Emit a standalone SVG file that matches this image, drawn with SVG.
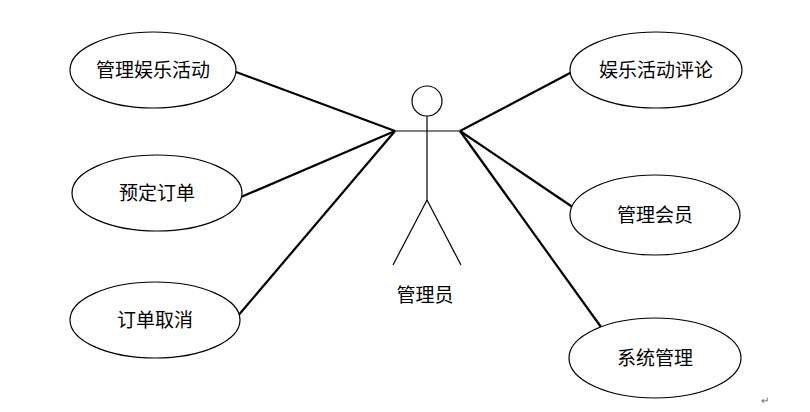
<svg xmlns="http://www.w3.org/2000/svg" width="810" height="412" viewBox="0 0 810 412">
<style>
ellipse{fill:#fff;stroke:#000;stroke-width:1.2}
.c line,.a line{stroke:#000}
.c line{stroke-width:2.2}
.a line,.a circle{stroke-width:1.2;fill:none;stroke:#000}
text{font-family:"Noto Sans CJK SC","Noto Sans CJK JP",sans-serif;font-size:19px;text-anchor:middle;fill:#000}
</style>
<rect width="810" height="412" fill="#fff"/>
<g class="c">
<line x1="395" y1="131" x2="236" y2="72"/>
<line x1="395" y1="131" x2="241" y2="197"/>
<line x1="395" y1="131" x2="237" y2="317"/>
<line x1="460" y1="131" x2="572" y2="72"/>
<line x1="460" y1="131" x2="574" y2="208"/>
<line x1="460" y1="131" x2="601" y2="327"/>
</g>
<g id="actor" class="a">
<circle cx="427" cy="101" r="15"/>
<line x1="427" y1="116" x2="427" y2="200"/>
<line x1="395" y1="131" x2="460" y2="131"/>
<line x1="427" y1="200" x2="393" y2="265"/>
<line x1="427" y1="200" x2="461" y2="265"/>
<text x="425" y="302" stroke="none">管理员</text>
</g>
<g id="uc1"><ellipse cx="153" cy="70" rx="83" ry="38"/><text x="153" y="77">管理娱乐活动</text></g>
<g id="uc2"><ellipse cx="157" cy="193" rx="85" ry="38"/><text x="157" y="200">预定订单</text></g>
<g id="uc3"><ellipse cx="155" cy="320" rx="85" ry="38"/><text x="155" y="327">订单取消</text></g>
<g id="uc4"><ellipse cx="656" cy="70" rx="86" ry="38"/><text x="656" y="77">娱乐活动评论</text></g>
<g id="uc5"><ellipse cx="655" cy="215" rx="85" ry="40"/><text x="655" y="222">管理会员</text></g>
<g id="uc6"><ellipse cx="655" cy="358" rx="86" ry="40"/><text x="655" y="365">系统管理</text></g>
<text x="765" y="404" style="font-size:10px;fill:#666">↵</text>
</svg>
